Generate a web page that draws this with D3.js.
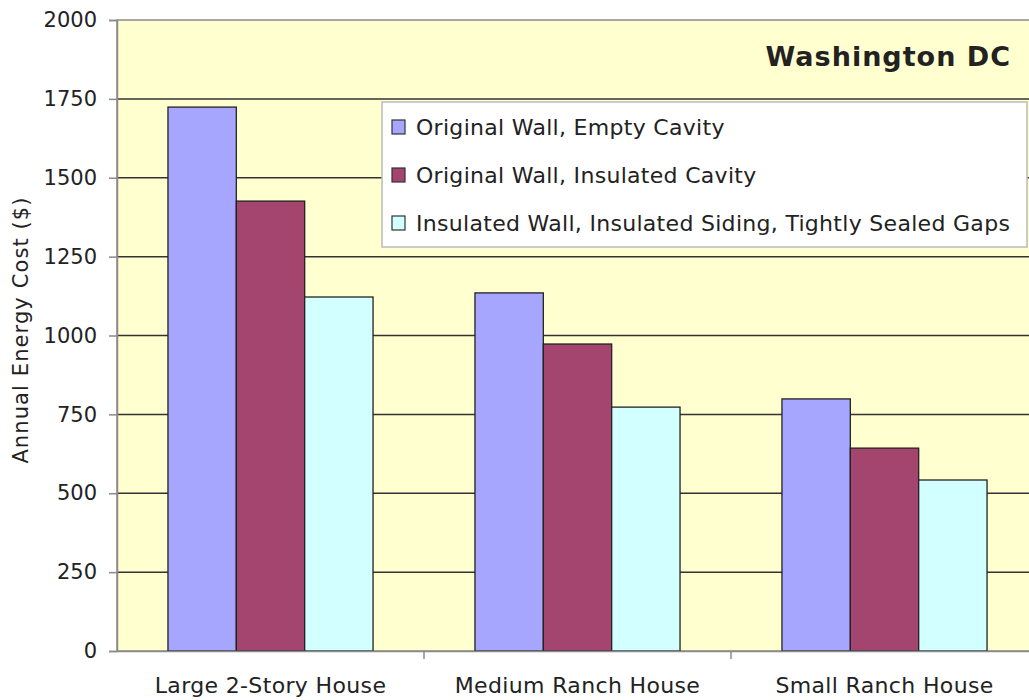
<!DOCTYPE html>
<html>
<head>
<meta charset="utf-8">
<script src="https://cdn.jsdelivr.net/npm/d3@7"></script>
<style>
  body { margin: 0; background: #fff; }
  text { font-family: Verdana, "DejaVu Sans", sans-serif; fill: #222; }
</style>
</head>
<body>
<div id="chart"></div>
<script>
// house types along the x axis
const houses = ["Large 2-Story House", "Medium Ranch House", "Small Ranch House"];
const seriesNames = [
    "Original Wall, Empty Cavity",
    "Original Wall, Insulated Cavity",
    "Insulated Wall, Insulated Siding, Tightly Sealed Gaps"
];
const emptyCavity = [1724, 1135, 799];
const insulatedCavity = [1426, 973, 643];
const insulatedSiding = [1122, 773, 542];
const yTicks = [0, 250, 500, 750, 1000, 1250, 1500, 1750, 2000];
const colors = ["#a6a6ff", "#a3456f", "#d2ffff"];

const seriesValues = [emptyCavity, insulatedCavity, insulatedSiding];

const width = 1029, height = 700;
const margin = {top: 20, right: -9, bottom: 49, left: 117};
const innerW = width - margin.left - margin.right;
const innerH = height - margin.top - margin.bottom;

const svg = d3.select("#chart").append("svg")
    .attr("width", width)
    .attr("height", height);

const g = svg.append("g").attr("transform", `translate(${margin.left},${margin.top})`);

const x0 = d3.scaleBand().domain(houses).range([0, innerW]).paddingInner(0).paddingOuter(0);
const groupW = x0.bandwidth() * 0.668;
const x1 = d3.scaleBand().domain(d3.range(seriesNames.length)).range([0, groupW]);
const y = d3.scaleLinear().domain([0, 2000]).range([innerH, 0]);

// plot background
g.append("rect")
    .attr("width", innerW).attr("height", innerH)
    .attr("fill", "#ffffcf")
    .attr("stroke", "#8a8a8a").attr("stroke-width", 1.5);

// grid lines
g.selectAll(".grid").data(yTicks.slice(1, -1)).enter().append("line")
    .attr("x1", 0).attr("x2", innerW)
    .attr("y1", d => y(d)).attr("y2", d => y(d))
    .attr("stroke", "#333").attr("stroke-width", 1.5);

// bars
houses.forEach((h, i) => {
    const gx = x0(h) + (x0.bandwidth() - groupW) / 2;
    seriesValues.forEach((vals, s) => {
        g.append("rect")
            .attr("x", gx + x1(s))
            .attr("y", y(vals[i]))
            .attr("width", x1.bandwidth())
            .attr("height", innerH - y(vals[i]))
            .attr("fill", colors[s])
            .attr("stroke", "#222").attr("stroke-width", 1.3);
    });
});

// y axis
const yAxis = g.append("g")
    .call(d3.axisLeft(y).tickValues(yTicks).tickSize(8).tickPadding(12).tickFormat(d3.format("d")));
yAxis.select(".domain").attr("stroke", "#8a8a8a").attr("stroke-width", 1.5);
yAxis.selectAll(".tick line").attr("stroke", "#8a8a8a").attr("stroke-width", 1.5);
yAxis.selectAll("text").style("font-size", "21px").attr("fill", "#222");

// x axis
const xAxis = g.append("g").attr("transform", `translate(0,${innerH})`)
    .call(d3.axisBottom(x0).tickSize(0).tickPadding(26));
xAxis.select(".domain").attr("stroke", "#8a8a8a").attr("stroke-width", 1.5);
xAxis.selectAll("text").style("font-size", "22px").style("letter-spacing", "0.35px").attr("fill", "#222");
// category separators
g.selectAll(".sep").data(houses.slice(1)).enter().append("line")
    .attr("x1", d => x0(d)).attr("x2", d => x0(d))
    .attr("y1", innerH).attr("y2", innerH + 8)
    .attr("stroke", "#8a8a8a").attr("stroke-width", 1.5);

// y label
svg.append("text")
    .attr("transform", "translate(28,330) rotate(-90)")
    .attr("text-anchor", "middle")
    .style("font-size", "21px").style("letter-spacing", "1.1px")
    .text("Annual Energy Cost ($)");

// title
svg.append("text")
    .attr("x", 1011).attr("y", 66)
    .attr("text-anchor", "end")
    .style("font-size", "27px").style("font-weight", "bold").style("letter-spacing", "1px")
    .attr("fill", "#111")
    .text("Washington DC");

// legend
const legend = svg.append("g").attr("transform", "translate(382,102)");
legend.append("rect")
    .attr("width", 645).attr("height", 145)
    .attr("fill", "#fff").attr("stroke", "#bbb").attr("stroke-width", 1.5);
seriesNames.forEach((name, i) => {
    const row = legend.append("g").attr("transform", `translate(0,${25 + i * 48})`);
    row.append("rect")
        .attr("x", 10).attr("y", -7).attr("width", 13).attr("height", 14)
        .attr("fill", colors[i]).attr("stroke", "#333").attr("stroke-width", 1.2);
    row.append("text")
        .attr("x", 34).attr("y", 8)
        .style("font-size", "22px").style("letter-spacing", "0.3px")
        .text(name);
});
</script>
</body>
</html>
